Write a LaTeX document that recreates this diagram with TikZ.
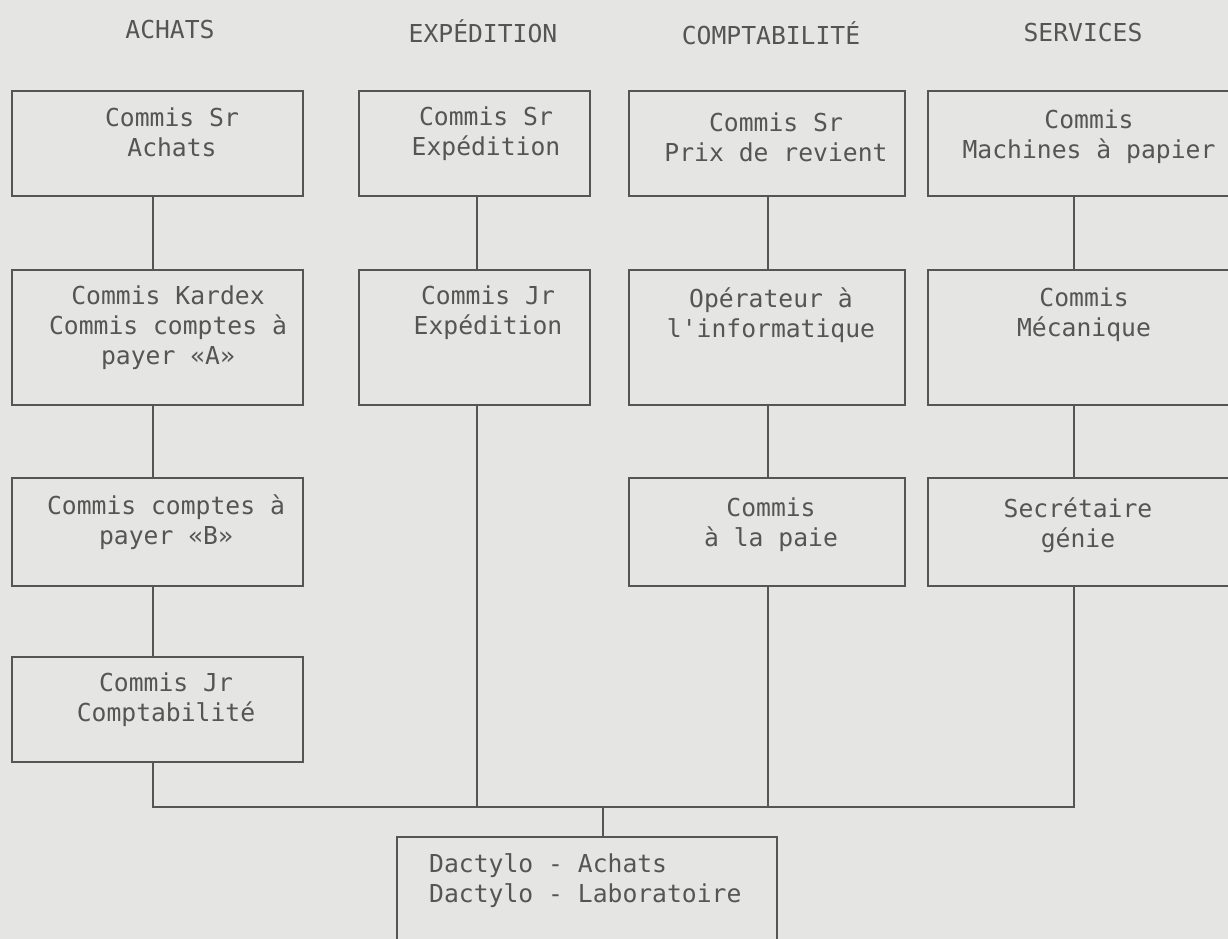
\documentclass[tikz,border=0pt]{standalone}
\usepackage{fontspec}
\newfontfamily\tw{DejaVu Sans Mono}
\definecolor{bg}{RGB}{229,229,227}
\definecolor{ink}{RGB}{85,85,85}
\begin{document}
\begin{tikzpicture}[x=1pt,y=-1pt,
  box/.style={draw=ink, line width=2.2pt, inner sep=0pt},
  txt/.style={text=ink, font=\tw\fontsize{24.7}{30}\selectfont, align=center, inner sep=0pt},
  link/.style={draw=ink, line width=2.2pt}]
\fill[bg] (0,0) rectangle (1228,939);
\useasboundingbox (0,0) rectangle (1228,939);
\clip (0,0) rectangle (1228,939);

% headers
\node[txt] (hA) at (170,30) {ACHATS};
\node[txt] (hE) at (483,31) {EXPÉDITION};
\node[txt] (hC) at (771,33) {COMPTABILITÉ};
\node[txt] (hS) at (1083,33) {SERVICES};

% boxes
\node[box, minimum width=291pt, minimum height=105pt] (a1) at (157.5,143.5) {};
\node[box, minimum width=291pt, minimum height=135pt] (a2) at (157.5,337.5) {};
\node[box, minimum width=291pt, minimum height=108pt] (a3) at (157.5,532) {};
\node[box, minimum width=291pt, minimum height=105pt] (a4) at (157.5,709.5) {};
\node[box, minimum width=231pt, minimum height=105pt] (e1) at (474.5,143.5) {};
\node[box, minimum width=231pt, minimum height=135pt] (e2) at (474.5,337.5) {};
\node[box, minimum width=276pt, minimum height=105pt] (c1) at (767,143.5) {};
\node[box, minimum width=276pt, minimum height=135pt] (c2) at (767,337.5) {};
\node[box, minimum width=276pt, minimum height=108pt] (c3) at (767,532) {};
\node[box, minimum width=322pt, minimum height=105pt] (s1) at (1089,143.5) {};
\node[box, minimum width=322pt, minimum height=135pt] (s2) at (1089,337.5) {};
\node[box, minimum width=322pt, minimum height=108pt] (s3) at (1089,532) {};
\node[box, minimum width=380pt, minimum height=163pt] (d) at (587,918.5) {};

% texts
\node[txt] (a1t) at (172,132) {Commis Sr\\Achats};
\node[txt] (a2t) at (168,328) {Commis Kardex\\Commis comptes à\\payer «A»};
\node[txt] (a3t) at (166,522) {Commis comptes à\\payer «B»};
\node[txt] (a4t) at (166,700) {Commis Jr\\Comptabilité};
\node[txt] (e1t) at (486,134) {Commis Sr\\Expédition};
\node[txt] (e2t) at (488,313) {Commis Jr\\Expédition};
\node[txt] (c1t) at (776,137) {Commis Sr\\Prix de revient};
\node[txt] (c2t) at (771,315) {Opérateur à\\l\textquotesingle informatique};
\node[txt] (c3t) at (771,525) {Commis\\à la paie};
\node[txt] (s1t) at (1089,137) {Commis\\Machines à papier};
\node[txt] (s2t) at (1084,315) {Commis\\Mécanique};
\node[txt] (s3t) at (1078,525) {Secrétaire\\génie};
\node[txt, align=left, anchor=west] (dt) at (429,881) {Dactylo - Achats\\Dactylo - Laboratoire};

% connector x positions
\coordinate (xa) at (153,0);
\coordinate (xe) at (477,0);
\coordinate (xc) at (768,0);
\coordinate (xs) at (1074,0);
\coordinate (xd) at (603,0);
\coordinate (bus) at (0,807);

\draw[link] (a1.south -| xa) -- (a2.north -| xa);
\draw[link] (a2.south -| xa) -- (a3.north -| xa);
\draw[link] (a3.south -| xa) -- (a4.north -| xa);
\draw[link] (e1.south -| xe) -- (e2.north -| xe);
\draw[link] (c1.south -| xc) -- (c2.north -| xc);
\draw[link] (c2.south -| xc) -- (c3.north -| xc);
\draw[link] (s1.south -| xs) -- (s2.north -| xs);
\draw[link] (s2.south -| xs) -- (s3.north -| xs);
\draw[link] (a4.south -| xa) -- (bus -| xa) -- (bus -| xs) -- (s3.south -| xs);
\draw[link] (e2.south -| xe) -- (bus -| xe);
\draw[link] (c3.south -| xc) -- (bus -| xc);
\draw[link] (bus -| xd) -- (d.north -| xd);
\end{tikzpicture}
\end{document}
